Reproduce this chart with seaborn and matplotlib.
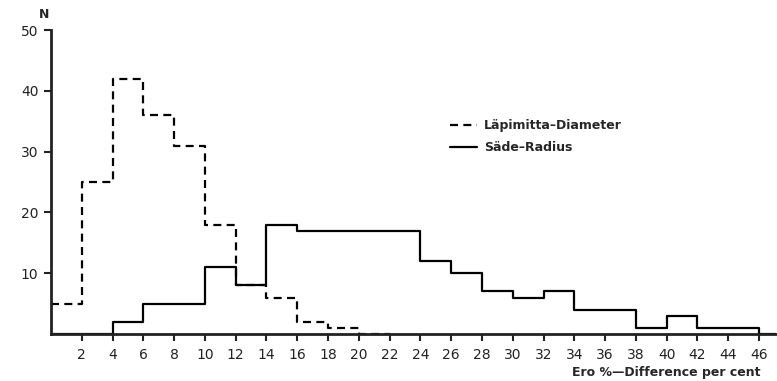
import numpy as np
import matplotlib
matplotlib.use("Agg")
import matplotlib.pyplot as plt
import seaborn as sns
import pandas as pd
from matplotlib.lines import Line2D

# bin edges (per cent), 2 % wide
edges = list(range(0, 50, 2))

# Läpimitta - Diameter, bins 0-2 ... 20-22
diameter = [5, 25, 42, 36, 31, 18, 8, 6, 2, 1, 0]
# Säde - Radius, bins 0-2 ... 46-48
radius = [0, 0, 2, 5, 5, 11, 8, 18, 17, 17, 17, 17, 12, 10, 7, 6, 7, 4, 4, 1, 3, 1, 1, 0]

yticks = [10, 20, 30, 40, 50]
xticks = list(range(2, 48, 2))

df_d = pd.DataFrame({"pct": [e + 1 for e in edges[:len(diameter)]], "n": diameter})
df_r = pd.DataFrame({"pct": [e + 1 for e in edges[:len(radius)]], "n": radius})

sns.set_style("ticks")
plt.rcParams["font.family"] = ["DejaVu Sans"]

fig = plt.figure(figsize=(7.77, 3.81), dpi=100)
ax = fig.add_axes([51 / 777, 1 - 334 / 381, 725 / 777, 304 / 381])

lw = 1.6
dash = (0, (3.6, 2.4))
sns.histplot(data=df_d, x="pct", weights="n", bins=edges[:len(diameter) + 1],
             element="step", fill=False, color="black", linewidth=lw,
             linestyle=dash, ax=ax)
sns.histplot(data=df_r, x="pct", weights="n", bins=edges[:len(radius) + 1],
             element="step", fill=False, color="black", linewidth=lw, ax=ax)

ax.set_xlim(0, 47.1)
ax.set_ylim(0, 50)
ax.set_xticks(xticks)
ax.set_yticks(yticks)
ax.tick_params(axis="both", direction="out", length=5, width=1.5, labelsize=10,
               colors="#222222")
ax.tick_params(axis="x", pad=5)
ax.tick_params(axis="y", pad=4)
for s in ["top", "right"]:
    ax.spines[s].set_visible(False)
for s in ["left", "bottom"]:
    ax.spines[s].set_linewidth(2)
    ax.spines[s].set_color("#222222")
ax.set_ylabel("")
ax.set_xlabel("Ero %—Difference per cent", fontsize=9, fontweight="bold", loc="right")
ax.xaxis.set_label_coords(0.979, -0.105)

fig.text(44 / 777, 1 - 14 / 381, "N", fontsize=9, fontweight="bold", ha="center", va="center")

handles = [Line2D([], [], color="black", lw=lw, linestyle=dash),
           Line2D([], [], color="black", lw=lw)]
fig.legend(handles, ["Läpimitta–Diameter", "Säde–Radius"], loc="upper left",
           bbox_to_anchor=(450 / 777, 1 - 119 / 381), frameon=False,
           prop={"size": 9, "weight": "bold"}, handlelength=2.2, handletextpad=0.5,
           labelspacing=0.75, borderpad=0, borderaxespad=0)

fig.savefig("out.png", dpi=100, facecolor="white")
